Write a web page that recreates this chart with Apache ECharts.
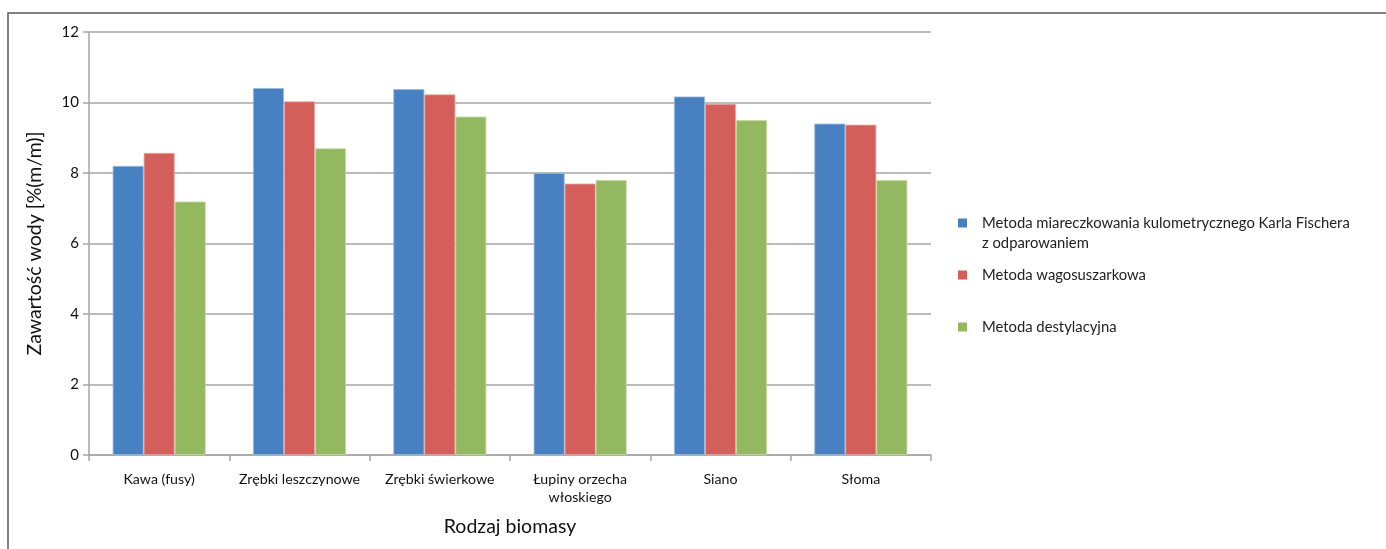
<!DOCTYPE html>
<html>
<head>
<meta charset="utf-8">
<script src="https://cdn.jsdelivr.net/npm/echarts@6/dist/echarts.min.js"></script>
<style>
  html, body { margin: 0; padding: 0; background: #ffffff; }
  #chart { width: 1386px; height: 549px; }
</style>
</head>
<body>
<div id="chart"></div>
<script>
// Biomass types on the category axis
const categories = [
  'Kawa (fusy)',
  'Zrębki leszczynowe',
  'Zrębki świerkowe',
  'Łupiny orzecha\nwłoskiego',
  'Siano',
  'Słoma'
];

// Water content [% (m/m)] by measurement method
const karlFischer = [8.2, 10.41, 10.38, 8.0, 10.17, 9.4];
const wagosuszarka = [8.57, 10.03, 10.23, 7.7, 9.96, 9.37];
const destylacja = [7.19, 8.7, 9.6, 7.8, 9.5, 7.8];

const seriesNames = [
  'Metoda miareczkowania kulometrycznego Karla Fischera\nz odparowaniem',
  'Metoda wagosuszarkowa',
  'Metoda destylacyjna'
];

const yTicks = [0, 2, 4, 6, 8, 10, 12];

const colors = ['#4781c1', '#d45e5a', '#93b85f'];
const borders = ['#9bbbe0', '#eaa9a6', '#c6dba8'];
const FONT = 'Lato, "Liberation Sans", sans-serif';

const chart = echarts.init(document.getElementById('chart'), null, { renderer: 'canvas' });

function bar(i, data) {
  return {
    name: seriesNames[i],
    type: 'bar',
    data: data,
    barWidth: 31,
    barGap: '0%',
    itemStyle: { color: colors[i], borderColor: borders[i], borderWidth: 0.8 }
  };
}

// one legend block per method so each entry sits at its own height;
// a two-line name gets a blank leading line so its square lines up with the first text line
function legendFor(i, top) {
  const twoLines = seriesNames[i].indexOf('\n') >= 0;
  return {
    data: [seriesNames[i]],
    left: 953,
    top: top,
    orient: 'vertical',
    icon: 'rect',
    itemWidth: 9,
    itemHeight: 9,
    selectedMode: false,
    itemStyle: { borderWidth: 0 },
    formatter: twoLines ? (name) => ' \n' + name : '{name}',
    textStyle: {
      fontFamily: FONT,
      fontSize: 14.8,
      color: '#222',
      lineHeight: 20,
      padding: [0, 0, 0, 10]
    }
  };
}

chart.setOption({
  animation: false,
  color: colors,
  grid: { left: 89, right: 455, top: 32, bottom: 94 },
  legend: [
    legendFor(0, 188),
    legendFor(1, 260),
    legendFor(2, 312)
  ],
  xAxis: {
    type: 'category',
    data: categories,
    boundaryGap: true,
    name: 'Rodzaj biomasy',
    nameLocation: 'middle',
    nameGap: 62,
    nameTextStyle: { fontFamily: FONT, fontSize: 19.5, color: '#111' },
    axisLine: { lineStyle: { color: '#a6a6a6', width: 1.5 } },
    axisTick: { show: true, length: 6, alignWithLabel: false, lineStyle: { color: '#a6a6a6', width: 1.5 } },
    axisLabel: {
      fontFamily: FONT,
      fontSize: 14.2,
      color: '#111',
      margin: 15,
      lineHeight: 18,
      interval: 0
    }
  },
  yAxis: {
    type: 'value',
    min: yTicks[0],
    max: yTicks[yTicks.length - 1],
    interval: 2,
    name: 'Zawartość wody [%(m/m)]',
    nameLocation: 'middle',
    nameGap: 44,
    nameTextStyle: { fontFamily: FONT, fontSize: 19.5, color: '#111' },
    axisLine: { show: true, lineStyle: { color: '#a6a6a6', width: 1.5 } },
    axisTick: { show: true, length: 6, lineStyle: { color: '#a6a6a6', width: 1.5 } },
    axisLabel: { fontFamily: FONT, fontSize: 15, color: '#111', margin: 10 },
    splitLine: { show: true, lineStyle: { color: '#bcbcbc', width: 2 } }
  },
  series: [
    bar(0, karlFischer),
    bar(1, wagosuszarka),
    bar(2, destylacja)
  ],
  graphic: [
    // outer chart frame (top and left edges)
    {
      type: 'polyline',
      silent: true,
      shape: { points: [[8, 549], [8, 13], [1386, 13]] },
      style: { stroke: '#5a5a5a', lineWidth: 1.5, fill: null }
    }
  ]
});
</script>
</body>
</html>
